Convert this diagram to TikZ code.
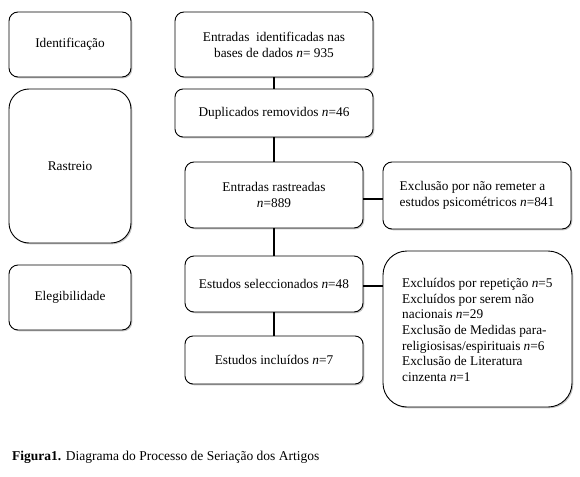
\documentclass[tikz,border=0pt]{standalone}
\usepackage{fontspec}
\setmainfont{Liberation Serif}
\usetikzlibrary{shadows}
\begin{document}
\begin{tikzpicture}[x=1pt,y=-1pt,
  box/.style={draw=black, line width=0.9pt, fill=white, rounded corners=#1,
    inner sep=0pt, align=center,
    font=\fontsize{13.3}{16}\selectfont,
    drop shadow={shadow xshift=1.3pt, shadow yshift=-1.3pt, opacity=0.45, fill=gray}},
  box/.default=9pt,
  conn/.style={line width=2.3pt, black},
  lbl/.style={inner sep=0pt, align=left, font=\fontsize{13.3}{15.7}\selectfont}]
\useasboundingbox (0,0) rectangle (580,476);
% phase boxes
\node[box, minimum width=122pt, minimum height=65pt] (ident) at (70,44.5) {Identificação};
\node[box=20pt, minimum width=122pt, minimum height=154pt] (rast) at (70,166) {Rastreio};
\node[box, minimum width=122pt, minimum height=65pt] (eleg) at (70,297.5) {Elegibilidade};
% flow boxes
\node[box, minimum width=198pt, minimum height=65pt] (entid) at (274,44.5) {Entradas\ \ identificadas nas\\bases de dados \textit{n}= 935};
\node[box=8pt, minimum width=198pt, minimum height=48pt] (dup) at (274,113) {Duplicados removidos \textit{n}=46};
\node[box, minimum width=178pt, minimum height=66pt] (entr) at (274,195) {Entradas rastreadas\\\textit{n}=889};
\node[box, minimum width=188pt, minimum height=67pt, align=left] (excl1) at (477,195.5) {Exclusão por não remeter a\\estudos psicométricos \textit{n}=841};
\node[box, minimum width=178pt, minimum height=56pt] (sel) at (274,284) {Estudos seleccionados \textit{n}=48};
\node[box=8pt, minimum width=178pt, minimum height=48pt] (inc) at (274,360) {Estudos incluídos \textit{n}=7};
\node[box=24pt, minimum width=189pt, minimum height=156pt] (excl2) at (477.5,329) {};
\node[lbl, anchor=west] (excl2txt) at (402,330) {Excluídos por repetição \textit{n}=5\\Excluídos por serem não\\nacionais \textit{n}=29\\Exclusão de Medidas para-\\religiosisas/espirituais \textit{n}=6\\Exclusão de Literatura\\cinzenta \textit{n}=1};
% connectors
\draw[conn] (entid.south) -- (dup.north);
\draw[conn] (dup.south) -- (entr.north);
\draw[conn] (entr.south) -- (sel.north);
\draw[conn] (sel.south) -- (inc.north);
\draw[conn] ([yshift=-4pt]entr.east) -- ([yshift=-4pt]entr.east -| excl1.west);
\draw[conn] ([yshift=-2pt]sel.east) -- ([yshift=-2pt]sel.east -| excl2.west);
% caption
\node[lbl, anchor=west, font=\fontsize{13.5}{15}\selectfont] (cap) at (12,457) {\textbf{Figura1.} Diagrama do Processo de Seriação dos Artigos};
\end{tikzpicture}
\end{document}
